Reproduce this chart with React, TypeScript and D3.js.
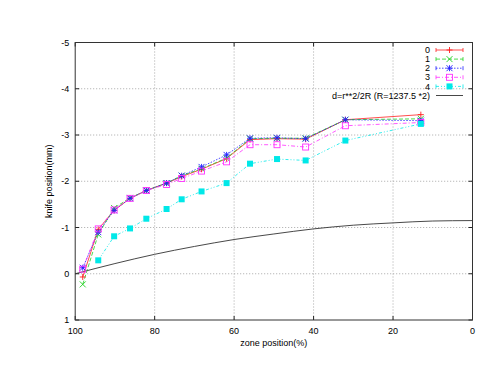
import React from 'react'
import { scaleLinear, line, curveMonotoneX } from 'd3'

// zone positions (%) where the knife edge readings were taken
const zones = [98.1, 94.2, 90.2, 86.2, 82.1, 77.0, 73.2, 68.2, 61.9, 56.0, 49.2, 42.0, 32.0, 13.0]

const run0 = [0.07, -0.96, -1.37, -1.63, -1.80, -1.96, -2.10, -2.26, -2.49, -2.90, -2.92, -2.91, -3.33, -3.44]
const run1 = [0.23, -0.85, -1.42, -1.64, -1.80, -1.96, -2.12, -2.27, -2.50, -2.92, -2.93, -2.93, -3.33, -3.35]
const run2 = [-0.13, -0.90, -1.37, -1.63, -1.80, -1.96, -2.12, -2.31, -2.57, -2.93, -2.94, -2.92, -3.33, -3.31]
const run3 = [-0.10, -0.97, -1.38, -1.63, -1.80, -1.93, -2.06, -2.22, -2.42, -2.79, -2.79, -2.74, -3.20, -3.27]
const run4 = [null, -0.29, -0.81, -0.98, -1.19, -1.40, -1.61, -1.78, -1.96, -2.38, -2.48, -2.45, -2.88, -3.24]

// reference curve
const refX = [100, 90, 80, 70, 60, 50, 40, 30, 20, 10, 0]
const refY = [0, -0.22, -0.42, -0.59, -0.74, -0.86, -0.97, -1.05, -1.10, -1.14, -1.15]

const xTicks = [100, 80, 60, 40, 20, 0]
const yTicks = [-5, -4, -3, -2, -1, 0, 1]
const seriesNames = ['0', '1', '2', '3', '4']
const refName = 'd=r**2/2R (R=1237.5 *2)'

const width = 500
const height = 386
const left = 75.2
const right = 472.5
const top = 42.5
const bottom = 320

const font = 'Liberation Sans, Arial, Helvetica, sans-serif'

const styles = [
  { color: '#ff2020', dash: undefined, marker: 'plus' },
  { color: '#20d020', dash: '4,2', marker: 'cross' },
  { color: '#2020ff', dash: '1.5,1.5', marker: 'star' },
  { color: '#ff30ff', dash: '4,2,1,2', marker: 'box' },
  { color: '#00e8e8', dash: '3,2,1,2,1,2', marker: 'fbox' },
]

function Marker({ type, x, y, color }: { type: string; x: number; y: number; color: string }) {
  const s = 3
  const sw = 0.9
  if (type === 'plus') {
    return (
      <g stroke={color} strokeWidth={sw}>
        <line x1={x - s} y1={y} x2={x + s} y2={y} />
        <line x1={x} y1={y - s} x2={x} y2={y + s} />
      </g>
    )
  }
  if (type === 'cross') {
    return (
      <g stroke={color} strokeWidth={sw}>
        <line x1={x - s} y1={y - s} x2={x + s} y2={y + s} />
        <line x1={x - s} y1={y + s} x2={x + s} y2={y - s} />
      </g>
    )
  }
  if (type === 'star') {
    return (
      <g stroke={color} strokeWidth={sw}>
        <line x1={x - s} y1={y} x2={x + s} y2={y} />
        <line x1={x} y1={y - s} x2={x} y2={y + s} />
        <line x1={x - s} y1={y - s} x2={x + s} y2={y + s} />
        <line x1={x - s} y1={y + s} x2={x + s} y2={y - s} />
      </g>
    )
  }
  if (type === 'box') {
    return <rect x={x - s} y={y - s} width={2 * s} height={2 * s} fill="none" stroke={color} strokeWidth={sw} />
  }
  return <rect x={x - s} y={y - s} width={2 * s} height={2 * s} fill={color} />
}

export default function App() {
  const xScale = scaleLinear().domain([100, 0]).range([left, right])
  const yScale = scaleLinear().domain([-5, 1]).range([top, bottom])

  const runs = [run0, run1, run2, run3, run4]
  const pts = runs.map(r =>
    zones.map((z, i) => ({ x: z, y: r[i] })).filter(p => p.y !== null) as { x: number; y: number }[]
  )
  const path = line<{ x: number; y: number }>()
    .x(d => xScale(d.x))
    .y(d => yScale(d.y))
  const refPath = line<number>()
    .x((d, i) => xScale(refX[i]))
    .y(d => yScale(d))
    .curve(curveMonotoneX)

  const legendX = 430
  const legendY0 = 50
  const legendStep = 9.1

  return (
    <svg width={width} height={height} style={{ position: 'absolute', left: 0, top: 0, background: '#fff' }}
      fontFamily={font} fontSize={9}>
      <rect width={width} height={height} fill="#fff" />
      {/* grid */}
      {xTicks.filter(t => t !== 100 && t !== 0).map(t => (
        <line key={'gx' + t} x1={xScale(t)} x2={xScale(t)} y1={top} y2={bottom}
          stroke="#a8a8a8" strokeWidth={1} strokeDasharray="1,2" />
      ))}
      {yTicks.filter(t => t !== -5 && t !== 1).map(t => (
        <line key={'gy' + t} x1={left} x2={right} y1={yScale(t)} y2={yScale(t)}
          stroke="#a8a8a8" strokeWidth={1} strokeDasharray="1,2" />
      ))}
      {/* ticks */}
      {xTicks.map(t => (
        <g key={'tx' + t} stroke="#222">
          <line x1={xScale(t)} x2={xScale(t)} y1={bottom} y2={bottom - 4} />
          <line x1={xScale(t)} x2={xScale(t)} y1={top} y2={top + 4} />
        </g>
      ))}
      {yTicks.map(t => (
        <g key={'ty' + t} stroke="#222">
          <line x1={left} x2={left + 4} y1={yScale(t)} y2={yScale(t)} />
          <line x1={right} x2={right - 4} y1={yScale(t)} y2={yScale(t)} />
        </g>
      ))}
      {/* labels */}
      {xTicks.map(t => (
        <text key={'lx' + t} x={xScale(t)} y={bottom + 13.5} textAnchor="middle">{t}</text>
      ))}
      {yTicks.map(t => (
        <text key={'ly' + t} x={left - 6} y={yScale(t)} dy=".35em" textAnchor="end">{t}</text>
      ))}
      <text x={(left + right) / 2} y={346} textAnchor="middle">zone position(%)</text>
      <text transform={`translate(49,${(top + bottom) / 2}) rotate(-90)`} dy=".35em" textAnchor="middle">knife position(mm)</text>

      {/* data */}
      <path d={refPath(refY) || ''} fill="none" stroke="#333" strokeWidth={0.9} />
      {pts.map((p, i) => (
        <path key={'s' + i} d={path(p) || ''} fill="none" stroke={styles[i].color} strokeWidth={0.8}
          strokeDasharray={styles[i].dash} />
      ))}
      {pts.map((p, i) => (
        <g key={'m' + i}>
          {p.map((d, j) => (
            <Marker key={j} type={styles[i].marker} x={xScale(d.x)} y={yScale(d.y)} color={styles[i].color} />
          ))}
        </g>
      ))}

      {/* legend */}
      {seriesNames.map((n, i) => {
        const y = legendY0 + i * legendStep
        return (
          <g key={'lg' + i}>
            <text x={legendX} y={y} dy=".35em" textAnchor="end">{n}</text>
            <line x1={436} x2={463} y1={y} y2={y} stroke={styles[i].color} strokeWidth={0.8} strokeDasharray={styles[i].dash} />
            <line x1={436} x2={436} y1={y - 2} y2={y + 2} stroke={styles[i].color} strokeWidth={0.8} />
            <line x1={463} x2={463} y1={y - 2} y2={y + 2} stroke={styles[i].color} strokeWidth={0.8} />
            <Marker type={styles[i].marker} x={449.5} y={y} color={styles[i].color} />
          </g>
        )
      })}
      <text x={legendX} y={legendY0 + 5 * legendStep} dy=".35em" textAnchor="end">{refName}</text>
      <line x1={436} x2={463} y1={legendY0 + 5 * legendStep} y2={legendY0 + 5 * legendStep} stroke="#333" strokeWidth={0.9} />

      {/* border */}
      <rect x={left} y={top} width={right - left} height={bottom - top} fill="none" stroke="#333" strokeWidth={1} />
    </svg>
  )
}
